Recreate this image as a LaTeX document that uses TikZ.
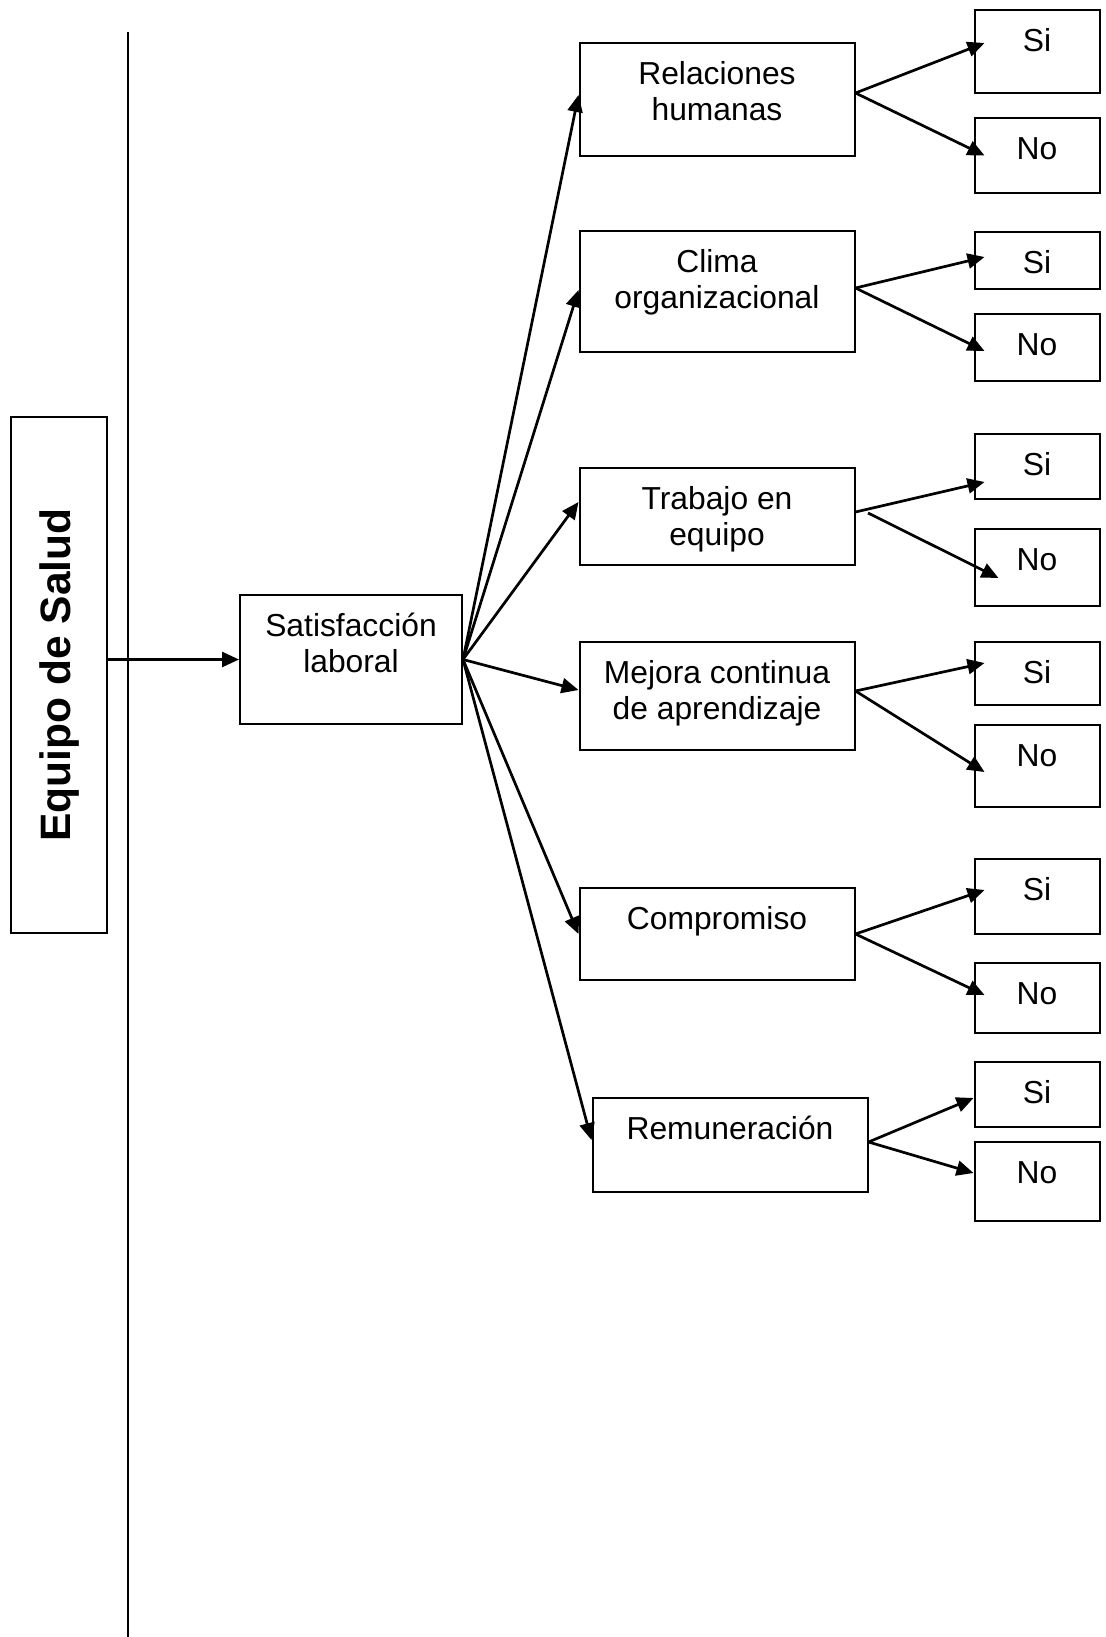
\documentclass[tikz,border=0pt]{standalone}
\usepackage{fontspec}
\setmainfont{Liberation Sans}
\usetikzlibrary{arrows.meta}
% invisible rule that fixes the height of the first text line in every box
\newcommand\boxstrut{\rule{0pt}{30pt}}
\begin{document}
\begin{tikzpicture}[x=1pt,y=-1pt,
  frame/.style={draw, line width=2pt, inner sep=0pt},
  midbox/.style={frame, minimum width=275pt},
  ansbox/.style={frame, minimum width=125pt},
  boxtext/.style={anchor=north, inner sep=0pt, align=center,
    font=\fontsize{31.8}{36.5}\selectfont},
  link/.style={line width=2.7pt, -{Triangle[length=17pt,width=15pt]}},
]
\useasboundingbox (0,0) rectangle (1105,1637);

% left title box and the long vertical rule
\node[frame, minimum width=96pt, minimum height=516pt] (equ) at (59,675) {};
\node[rotate=90, inner sep=0pt, font=\fontsize{42.5}{48}\selectfont\bfseries] (equt) at (60,675) {Equipo de Salud};
\coordinate (vtop) at (128,32);
\coordinate (vbot) at (128,1637);
\draw[line width=2pt] (vtop) -- (vbot);

% central box
\node[frame, minimum width=222pt, minimum height=129pt] (sat) at (351,659.5) {};
\node[boxtext] (satt) at ([yshift=-12pt]sat.north) {\boxstrut Satisfacción\\laboral};

% dimensions
\node[midbox, minimum height=113pt] (rel) at (717,99.5) {};
\node[boxtext] (relt) at ([yshift=-12pt]rel.north) {\boxstrut Relaciones\\humanas};
\node[midbox, minimum height=121pt] (cli) at (717,291.5) {};
\node[boxtext] (clit) at ([yshift=-12pt]cli.north) {\boxstrut Clima\\organizacional};
\node[midbox, minimum height=97pt] (tra) at (717,516.5) {};
\node[boxtext] (trat) at ([yshift=-12pt]tra.north) {\boxstrut Trabajo en\\equipo};
\node[midbox, minimum height=108pt] (mej) at (717,696) {};
\node[boxtext] (mejt) at ([yshift=-12pt]mej.north) {\boxstrut Mejora continua\\de aprendizaje};
\node[midbox, minimum height=92pt] (com) at (717,934) {};
\node[boxtext] (comt) at ([yshift=-12pt]com.north) {\boxstrut Compromiso};
\node[midbox, minimum height=94pt] (rem) at (730,1145) {};
\node[boxtext] (remt) at ([yshift=-12pt]rem.north) {\boxstrut Remuneración};

% yes / no answers
\node[ansbox, minimum height=83pt] (si1) at (1037,51.5) {};
\node[ansbox, minimum height=75pt] (no1) at (1037,155.5) {};
\node[ansbox, minimum height=57pt] (si2) at (1037,260.5) {};
\node[ansbox, minimum height=67pt] (no2) at (1037,347.5) {};
\node[ansbox, minimum height=65pt] (si3) at (1037,466.5) {};
\node[ansbox, minimum height=77pt] (no3) at (1037,567.5) {};
\node[ansbox, minimum height=63pt] (si4) at (1037,673.5) {};
\node[ansbox, minimum height=82pt] (no4) at (1037,766) {};
\node[ansbox, minimum height=75pt] (si5) at (1037,896.5) {};
\node[ansbox, minimum height=70pt] (no5) at (1037,998) {};
\node[ansbox, minimum height=65pt] (si6) at (1037,1094.5) {};
\node[ansbox, minimum height=79pt] (no6) at (1037,1181.5) {};
\foreach \n in {si1,si2,si3,si4,si5,si6}
  \node[boxtext] (\n t) at ([yshift=-12pt]\n.north) {\boxstrut Si};
\foreach \n in {no1,no2,no3,no4,no5,no6}
  \node[boxtext] (\n t) at ([yshift=-12pt]\n.north) {\boxstrut No};

% connectors
\draw[link] (equ.east |- sat.west) -- (sat.west);

\draw[link] (sat.east) -- ([yshift=4.5pt]rel.west);
\draw[link] (sat.east) -- ([yshift=1.5pt]cli.west);
\draw[link] (sat.east) -- ([yshift=14.5pt]tra.west);
\draw[link] (sat.east) -- ([yshift=6pt]mej.west);
\draw[link] (sat.east) -- (com.west);
\draw[link] (sat.east) -- ([yshift=5pt]rem.west);

\draw[link] ([yshift=6.5pt]rel.east) -- ([shift={(11,-8.5)}]si1.west);
\draw[link] ([yshift=6.5pt]rel.east) -- ([shift={(11,0)}]no1.west);
\draw[link] ([yshift=3.5pt]cli.east) -- ([shift={(11,-3.5)}]si2.west);
\draw[link] ([yshift=3.5pt]cli.east) -- ([shift={(11,3.5)}]no2.west);
\draw[link] ([yshift=4.5pt]tra.east) -- ([shift={(11,15.5)}]si3.west);
\draw[link] ([shift={(12.5,-3.5)}]tra.east) -- ([shift={(25,10.5)}]no3.west);
\draw[link] ([yshift=5pt]mej.east) -- ([shift={(11,-10.5)}]si4.west);
\draw[link] ([yshift=5pt]mej.east) -- ([shift={(11,6)}]no4.west);
\draw[link] (com.east) -- ([shift={(11,-6.5)}]si5.west);
\draw[link] (com.east) -- ([shift={(11,-3)}]no5.west);
\draw[link] ([yshift=3pt]rem.east) -- ([shift={(0,3.5)}]si6.west);
\draw[link] ([yshift=3pt]rem.east) -- ([shift={(0,-8.5)}]no6.west);
\end{tikzpicture}
\end{document}
